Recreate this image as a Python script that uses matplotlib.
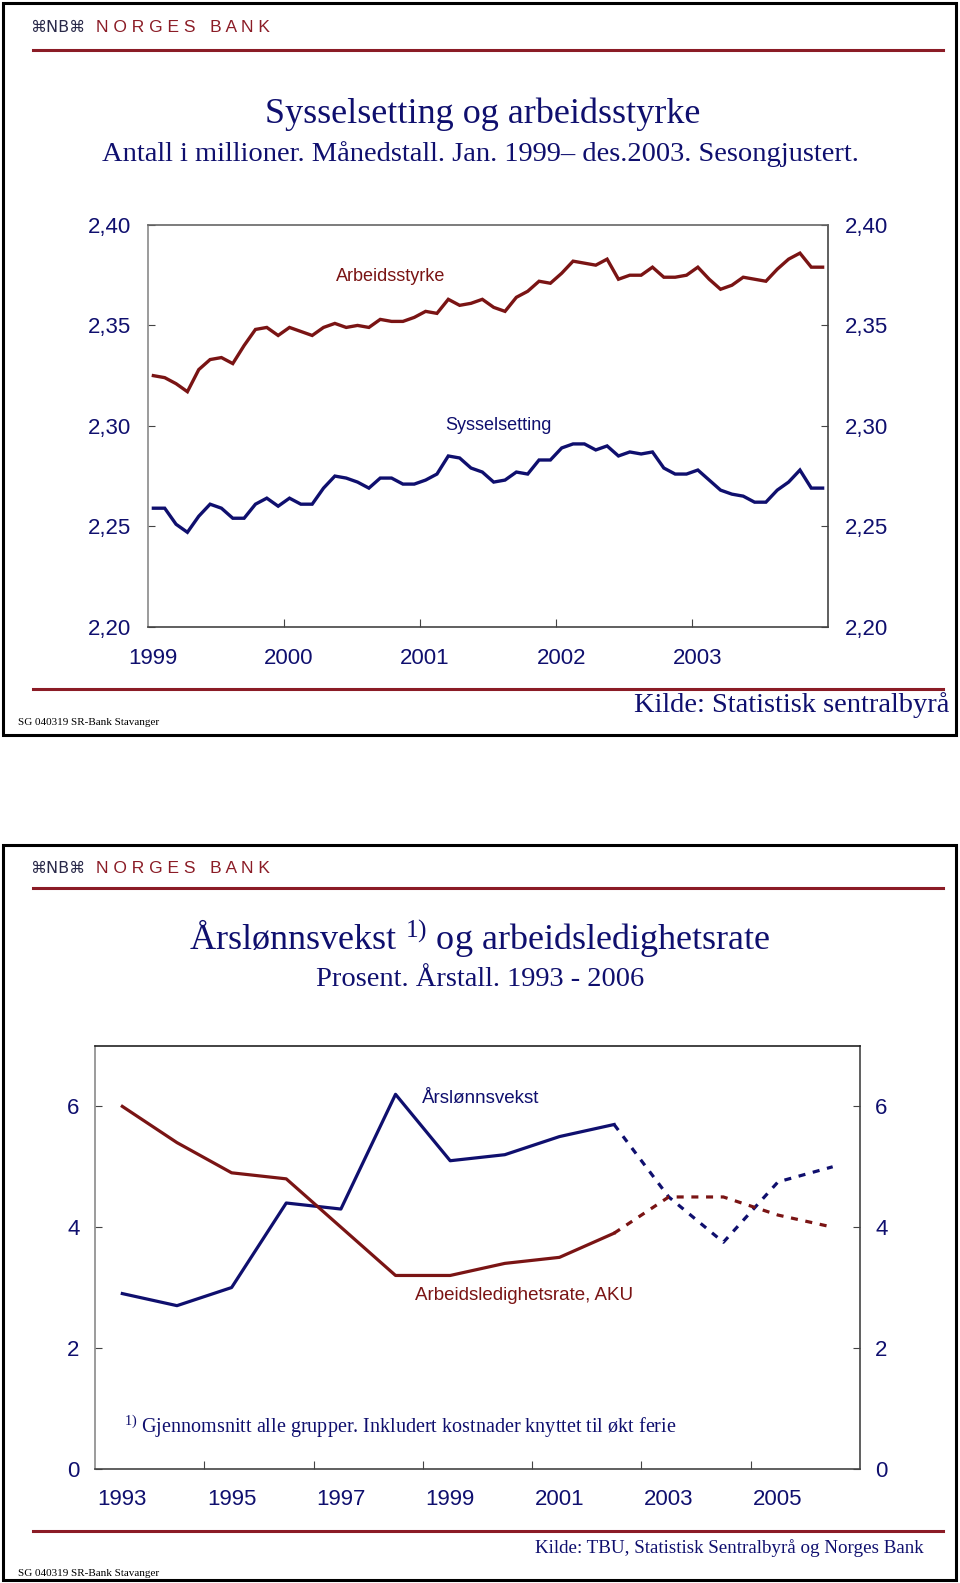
"""Two Norges Bank slides: employment/labour force and wage growth vs unemployment."""

import matplotlib

matplotlib.use("Agg")
import matplotlib.pyplot as plt
import matplotlib.transforms as mtransforms
import numpy as np
from matplotlib.lines import Line2D
from matplotlib.patches import Rectangle

W, H = 960, 1583

# --- chart 1: monthly, Jan 1999 - Dec 2003, millions ---
arbeidsstyrke = [
    2.325, 2.324, 2.321, 2.317, 2.328, 2.333, 2.334, 2.331, 2.340, 2.348,
    2.349, 2.345, 2.349, 2.347, 2.345, 2.349, 2.351, 2.349, 2.350, 2.349,
    2.353, 2.352, 2.352, 2.354, 2.357, 2.356, 2.363, 2.360, 2.361, 2.363,
    2.359, 2.357, 2.364, 2.367, 2.372, 2.371, 2.376, 2.382, 2.381, 2.380,
    2.383, 2.373, 2.375, 2.375, 2.379, 2.374, 2.374, 2.375, 2.379, 2.373,
    2.368, 2.370, 2.374, 2.373, 2.372, 2.378, 2.383, 2.386, 2.379, 2.379,
]
sysselsetting = [
    2.259, 2.259, 2.251, 2.247, 2.255, 2.261, 2.259, 2.254, 2.254, 2.261,
    2.264, 2.260, 2.264, 2.261, 2.261, 2.269, 2.275, 2.274, 2.272, 2.269,
    2.274, 2.274, 2.271, 2.271, 2.273, 2.276, 2.285, 2.284, 2.279, 2.277,
    2.272, 2.273, 2.277, 2.276, 2.283, 2.283, 2.289, 2.291, 2.291, 2.288,
    2.290, 2.285, 2.287, 2.286, 2.287, 2.279, 2.276, 2.276, 2.278, 2.273,
    2.268, 2.266, 2.265, 2.262, 2.262, 2.268, 2.272, 2.278, 2.269, 2.269,
]
chart1_year_labels = ["1999", "2000", "2001", "2002", "2003"]
chart1_yticks = [2.20, 2.25, 2.30, 2.35, 2.40]
chart1_ytick_labels = ["2,20", "2,25", "2,30", "2,35", "2,40"]

# --- chart 2: annual 1993 - 2006, percent (2003-2006 projections) ---
years2 = [1993, 1994, 1995, 1996, 1997, 1998, 1999,
          2000, 2001, 2002, 2003, 2004, 2005, 2006]
lonnsvekst = [2.9, 2.7, 3.0, 4.4, 4.3, 6.2, 5.1, 5.2, 5.5, 5.7, 4.5, 3.75, 4.75, 5.0]
ledighet = [6.0, 5.4, 4.9, 4.8, 4.0, 3.2, 3.2, 3.4, 3.5, 3.9, 4.5, 4.5, 4.2, 4.0]
last_actual_year = 2002
chart2_yticks = [0, 2, 4, 6]
chart2_ytick_labels = ["0", "2", "4", "6"]
chart2_year_labels = ["1993", "1995", "1997", "1999", "2001", "2003", "2005"]

COLORS = {
    "navy": "#0f0f6e",
    "red": "#7a1414",
    "rule": "#8b1c26",
    "spine": "#444444",
    "spine_light": "#8a8a8a",
}
SANS = "Liberation Sans"
SERIF = "Liberation Serif"

plt.rcParams["mathtext.fontset"] = "custom"
plt.rcParams["mathtext.rm"] = SERIF
plt.rcParams["mathtext.it"] = SERIF + ":italic"


def fx(x):
    return x / W


def fy(y):
    return 1 - y / H


def axes_px(fig, left, top, right, bottom):
    return fig.add_axes([fx(left), fy(bottom), (right - left) / W, (bottom - top) / H])


def slide_frame(fig, top, bottom, logo_y, rule_y, rule2_y, source, source_x, source_y,
                source_size, sg_y):
    fig.add_artist(Rectangle((fx(3), fy(bottom)), (956 - 3) / W, (bottom - top) / H,
                             transform=fig.transFigure, fill=False, ec="black", lw=2.2))
    fig.text(fx(30), fy(logo_y), "⌘NB⌘", family="DejaVu Sans", fontsize=11.5,
             color="#2a2a4a", va="center", ha="left")
    fig.text(fx(96), fy(logo_y), "N O R G E S   B A N K", family=SANS, fontsize=12.5,
             color=COLORS["rule"], va="center", ha="left")
    for ry in (rule_y, rule2_y):
        fig.add_artist(Line2D([fx(33), fx(943)], [fy(ry), fy(ry)], transform=fig.transFigure,
                              color=COLORS["rule"], lw=2.2))
    fig.text(fx(source_x), fy(source_y), source, family=SERIF, fontsize=source_size,
             color=COLORS["navy"], ha="right", va="center")
    fig.text(fx(18), fy(sg_y), "SG 040319 SR-Bank Stavanger", family=SERIF, fontsize=8,
             color="black", ha="left", va="center")


def style_axes(ax, left_color, top_color):
    for side in ("right", "bottom"):
        ax.spines[side].set_color(COLORS["spine"])
    ax.spines["left"].set_color(left_color)
    ax.spines["top"].set_color(top_color)
    for sp in ax.spines.values():
        sp.set_linewidth(1.2)


def chart1(fig):
    ax = axes_px(fig, 147.7, 225, 828.3, 626.7)
    x = np.arange(len(arbeidsstyrke)) + 0.5
    ax.plot(x, arbeidsstyrke, color=COLORS["red"], lw=2.4, solid_joinstyle="miter")
    ax.plot(x, sysselsetting, color=COLORS["navy"], lw=2.4, solid_joinstyle="miter")
    ax.set_xlim(0, 60)
    ax.set_ylim(2.20, 2.40)
    ax.set_yticks(chart1_yticks, labels=chart1_ytick_labels)
    ax.set_xticks([12, 24, 36, 48], labels=[])
    ax.tick_params(axis="y", left=True, right=True, labelleft=True, labelright=True,
                   direction="in", length=5, pad=12, labelsize=16,
                   labelcolor=COLORS["navy"], color=COLORS["spine"])
    ax.tick_params(axis="x", direction="in", length=6, color=COLORS["spine"])
    for lab in ax.get_yticklabels():
        lab.set_family(SANS)
    style_axes(ax, COLORS["spine_light"], "#666666")

    trans = mtransforms.blended_transform_factory(ax.transData, ax.transAxes)
    for i, lab in enumerate(chart1_year_labels):
        ax.text(12 * i + 0.45, -0.08, lab, transform=trans, ha="center", va="center",
                family=SANS, fontsize=16, color=COLORS["navy"], clip_on=False)
    ax.text(21.45, 2.3746, "Arbeidsstyrke", ha="center", va="center", family=SANS,
            fontsize=13, color=COLORS["red"])
    ax.text(30.9, 2.300, "Sysselsetting", ha="center", va="center", family=SANS,
            fontsize=13, color=COLORS["navy"])


def chart2(fig):
    ax = axes_px(fig, 95, 1046, 860, 1468.7)
    yrs = np.array(years2)
    split = years2.index(last_actual_year) + 1
    for series, color in ((lonnsvekst, COLORS["navy"]), (ledighet, COLORS["red"])):
        vals = np.array(series)
        ax.plot(yrs[:split], vals[:split], color=color, lw=2.3)
        ax.plot(yrs[split - 1:], vals[split - 1:], color=color, lw=2.3,
                linestyle=(0, (2.2, 2.4)))
    ax.set_xlim(1992.5, 2006.5)
    ax.set_ylim(0, 7)
    ax.set_yticks(chart2_yticks, labels=chart2_ytick_labels)
    ax.set_xticks(np.arange(1994.5, 2005, 2), labels=[])
    ax.tick_params(axis="y", left=True, right=True, labelleft=True, labelright=True,
                   direction="in", length=5, pad=11, labelsize=16,
                   labelcolor=COLORS["navy"], color=COLORS["spine"])
    ax.tick_params(axis="x", direction="in", length=6, color=COLORS["spine"])
    for lab in ax.get_yticklabels():
        lab.set_family(SANS)
    style_axes(ax, COLORS["spine_light"], "#222222")

    trans = mtransforms.blended_transform_factory(ax.transData, ax.transAxes)
    for yr, lab in zip(years2[::2], chart2_year_labels):
        ax.text(yr, -0.0717, lab, transform=trans, ha="center", va="center",
                family=SANS, fontsize=16, color=COLORS["navy"], clip_on=False)
    ax.text(1998.48, 6.13, "Årslønnsvekst", ha="left", va="center", family=SANS,
            fontsize=13.5, color=COLORS["navy"])
    ax.text(1998.36, 2.87, "Arbeidsledighetsrate, AKU", ha="left", va="center",
            family=SANS, fontsize=13.5, color=COLORS["red"])
    ax.text(1993.03, 0.69,
            r"$^{\mathrm{1)}}$ Gjennomsnitt alle grupper. Inkludert kostnader knyttet til økt ferie",
            ha="left", va="center", family=SERIF, fontsize=14.5, color=COLORS["navy"])


def main():
    fig = plt.figure(figsize=(W / 100, H / 100), dpi=100)
    fig.patch.set_facecolor("white")

    slide_frame(fig, 3, 735, 27, 50, 689, "Kilde: Statistisk sentralbyrå", 949, 705, 20.5, 722)
    fig.text(0.503, fy(114), "Sysselsetting og arbeidsstyrke", family=SERIF, fontsize=26,
             color=COLORS["navy"], ha="center", va="center")
    fig.text(0.5, fy(154), "Antall i millioner. Månedstall. Jan. 1999– des.2003. Sesongjustert.",
             family=SERIF, fontsize=20.5, color=COLORS["navy"], ha="center", va="center")
    chart1(fig)

    slide_frame(fig, 845, 1580, 869, 888, 1531,
                "Kilde: TBU, Statistisk Sentralbyrå og Norges Bank", 924, 1548, 13.7, 1573)
    fig.text(0.5, fy(939), r"Årslønnsvekst $^{\mathrm{1)}}$ og arbeidsledighetsrate",
             family=SERIF, fontsize=26, color=COLORS["navy"], ha="center", va="center")
    fig.text(0.5, fy(979), "Prosent. Årstall. 1993 - 2006", family=SERIF, fontsize=20.5,
             color=COLORS["navy"], ha="center", va="center")
    chart2(fig)

    fig.savefig("out.png", dpi=100)
    plt.close(fig)


if __name__ == "__main__":
    main()
